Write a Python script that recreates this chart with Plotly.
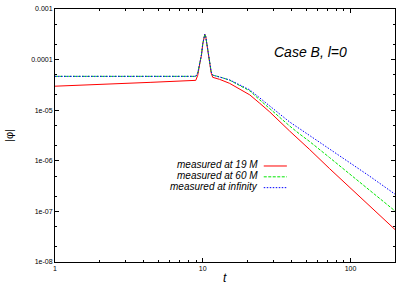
import plotly.graph_objects as go

# ---- data ----
t = [1, 2, 4.4, 8.97, 9.25, 9.54, 9.8, 10.0, 10.16, 10.32, 10.48, 10.64, 10.86, 11.15,
     11.41, 11.68, 13.0, 15.2, 20.8, 24.3, 28.4, 38.7, 45.2, 52.9, 72.1, 98.5, 134.4, 200]

phi_19M = [2.98e-5, 3.19e-5, 3.55e-5, 3.89e-5, 4.9e-5, 8.3e-5, 1.22e-4, 2.03e-4, 2.75e-4,
           3.16e-4, 2.82e-4, 2.13e-4, 1.22e-4, 7.3e-5, 5.4e-5, 4.46e-5, 4.07e-5, 3.39e-5,
           2.01e-5, 1.37e-5, 9.24e-6, 3.88e-6, 2.58e-6, 1.67e-6, 7.02e-7, 2.98e-7, 1.30e-7,
           4.38e-8]

phi_60M = [4.67e-5, 4.67e-5, 4.67e-5, 4.67e-5, 5.47e-5, 8.63e-5, 1.244e-4, 2.05e-4, 2.76e-4,
           3.17e-4, 2.83e-4, 2.15e-4, 1.244e-4, 7.53e-5, 5.73e-5, 4.93e-5, 4.56e-5, 3.92e-5,
           2.41e-5, 1.60e-5, 1.06e-5, 4.88e-6, 3.39e-6, 2.40e-6, 1.16e-6, 5.59e-7, 2.63e-7,
           1.02e-7]

phi_inf = [4.67e-5, 4.67e-5, 4.67e-5, 4.67e-5, 5.47e-5, 8.63e-5, 1.244e-4, 2.05e-4, 2.76e-4,
           3.17e-4, 2.83e-4, 2.15e-4, 1.244e-4, 7.53e-5, 5.73e-5, 4.93e-5, 4.56e-5, 3.97e-5,
           2.52e-5, 1.75e-5, 1.19e-5, 5.85e-6, 4.31e-6, 3.16e-6, 1.71e-6, 9.23e-7, 4.99e-7,
           2.19e-7]

series_names = ["measured at 19 M", "measured at 60 M", "measured at infinity"]

x_tickvals = [1, 10, 100]
x_ticktext = ["1", "10", "100"]
y_tickvals = [1e-8, 1e-7, 1e-6, 1e-5, 1e-4, 1e-3]
y_ticktext = ["1e-08", "1e-07", "1e-06", "1e-05", "0.0001", "0.001"]

# ---- styling ----
FONT = "Liberation Sans, Arial, Helvetica, sans-serif"
colors = ["#ff0000", "#00e600", "#0000ff"]
dashes = ["solid", "3px,1.5px", "1.5px,1.5px"]

x_minor = [m * d for d in (1, 10, 100) for m in range(2, 10) if m * d < 200]
y_minor = [m * 10.0 ** e for e in range(-8, -3) for m in (2, 5)]

fig = go.Figure()
for vals, name, c, d in zip([phi_19M, phi_60M, phi_inf], series_names, colors, dashes):
    fig.add_trace(go.Scatter(x=t, y=vals, mode="lines", name=name, showlegend=False,
                             line=dict(color=c, width=1, dash=d)))

axis_common = dict(
    type="log", showline=True, linecolor="black", linewidth=1, mirror="ticks",
    ticks="inside", ticklen=4, tickwidth=1, tickcolor="black", showgrid=False,
    zeroline=False, tickmode="array",
    tickfont=dict(family=FONT, size=7, color="black"),
)

fig.update_xaxes(**axis_common, range=[0, 2.30103], tickvals=x_tickvals, ticktext=x_ticktext,
                 minor=dict(tickmode="array", tickvals=x_minor, ticks="inside", ticklen=2,
                            tickcolor="black", showgrid=False))
fig.update_yaxes(**axis_common, range=[-8, -3], tickvals=y_tickvals, ticktext=y_ticktext,
                 minor=dict(tickmode="array", tickvals=y_minor, ticks="inside", ticklen=2,
                            tickcolor="black", showgrid=False),
                 title=dict(text="|φ|", font=dict(family=FONT, size=11, color="black"),
                            standoff=15))

annotations = [
    dict(text="Case B, l=0", x=0.752, y=0.83, xref="paper", yref="paper",
         xanchor="center", yanchor="middle", showarrow=False,
         font=dict(family=FONT, size=14, color="black", style="italic")),
    dict(text="t", x=0.5, y=-0.0955, xref="paper", yref="paper",
         xanchor="center", yanchor="bottom", showarrow=False, borderpad=0,
         font=dict(family=FONT, size=12, color="black", style="italic")),
]
shapes = []
legend_y = [0.3835, 0.3407, 0.2979]
for name, c, d, yy in zip(series_names, colors, dashes, legend_y):
    annotations.append(dict(text=name, x=0.602, y=yy, xref="paper",
                            yref="paper", xanchor="right", yanchor="middle", showarrow=False,
                            font=dict(family=FONT, size=10, color="black", style="italic")))
    shapes.append(dict(type="line", xref="paper", yref="paper", x0=0.614, x1=0.682,
                       y0=yy - 0.004, y1=yy - 0.004, line=dict(color=c, width=1, dash=d)))

fig.update_layout(
    width=409, height=286,
    margin=dict(l=55, r=13.5, t=9.3, b=24.3, autoexpand=False),
    paper_bgcolor="white", plot_bgcolor="white",
    annotations=annotations, shapes=shapes,
    showlegend=False,
)

fig.write_html("out.html", config={"displayModeBar": False},
               post_script="document.body.style.margin='0';document.body.style.padding='0';")
